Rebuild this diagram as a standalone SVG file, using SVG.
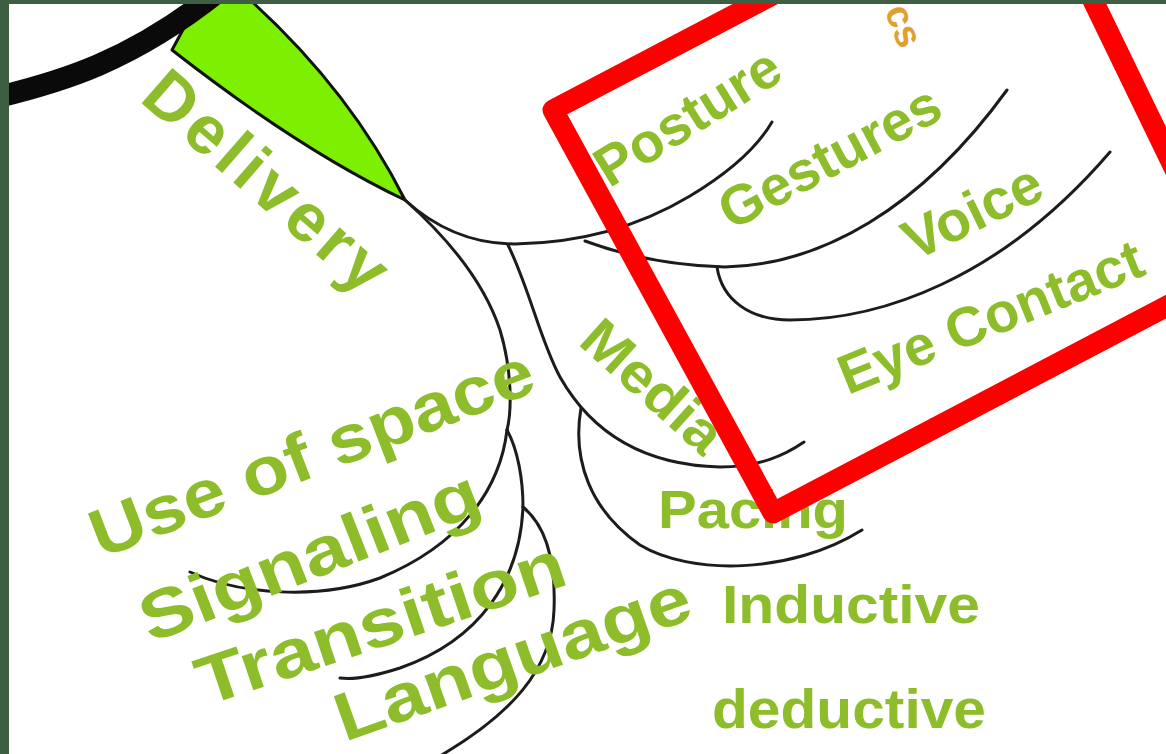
<svg xmlns="http://www.w3.org/2000/svg" width="1166" height="754" viewBox="0 0 1166 754">
<style>
.lbl{font-family:"Liberation Sans",Arial,sans-serif;font-weight:bold;fill:#8dbd2a;}
.br{fill:none;stroke:#1c1c1c;stroke-width:3;stroke-linecap:round;}
</style>
<rect x="0" y="0" width="1166" height="754" fill="#ffffff"/>
<g id="central-node">
<path d="M172 50 Q300 150 405 200 Q350 90 248 -2 L200 -2 Z" fill="#7cf000" stroke="#111" stroke-width="3" stroke-linejoin="round"/>
<path d="M-2 97 C60 82 130 62 218 -8" fill="none" stroke="#0a0a0a" stroke-width="22"/>
</g>
<g id="connectors">
<path class="br" d="M405 200 C440 232 478 244 515 244 C580 243 640 226 690 196 C730 172 758 146 772 122"/>
<path class="br" d="M585 241 Q650 265 725 267 C820 265 920 210 1007 90"/>
<path class="br" d="M717 267 C722 300 750 320 790 320 C880 320 1000 280 1110 152"/>
<path class="br" d="M508 245 C530 290 540 340 560 377 C590 430 640 465 720 467 C760 467 785 455 804 442"/>
<path class="br" d="M581 408 C572 460 590 510 640 545 C690 575 790 575 862 530"/>
<path class="br" d="M405 200 C450 240 485 285 500 330 C512 370 512 410 507 430"/>
<path class="br" d="M507 430 C500 490 460 545 380 578 C320 600 240 595 190 572"/>
<path class="br" d="M507 430 C518 450 523 480 523 507"/>
<path class="br" d="M523 507 C520 580 480 640 400 668 C375 676 355 680 340 678"/>
<path class="br" d="M523 507 C545 525 556 560 554 610 C552 670 510 715 440 756"/>
</g>
<g id="delivery"><text class="lbl" font-size="68" text-anchor="middle" textLength="300" lengthAdjust="spacing" transform="translate(266,182) rotate(41)" y="22">Delivery</text></g>
<g id="posture"><text class="lbl" font-size="56" text-anchor="middle" transform="translate(688,118) rotate(-32)" y="18">Posture</text></g>
<g id="gestures"><text class="lbl" font-size="56" text-anchor="middle" transform="translate(830,158) rotate(-28)" y="18">Gestures</text></g>
<g id="voice"><text class="lbl" font-size="57" text-anchor="middle" transform="translate(973,213) rotate(-26)" y="18">Voice</text></g>
<g id="eye-contact"><text class="lbl" font-size="56" text-anchor="middle" transform="translate(991,318) rotate(-22)" y="18">Eye Contact</text></g>
<g id="media"><text class="lbl" font-size="56" text-anchor="middle" textLength="170" lengthAdjust="spacingAndGlyphs" transform="translate(652,387) rotate(42)" y="18">Media</text></g>
<g id="pacing"><text class="lbl" font-size="53" x="658" y="528" textLength="190" lengthAdjust="spacingAndGlyphs">Pacing</text></g>
<g id="inductive"><text class="lbl" font-size="53" x="722" y="623" textLength="258" lengthAdjust="spacingAndGlyphs">Inductive</text></g>
<g id="deductive"><text class="lbl" font-size="56" x="712" y="728" textLength="274" lengthAdjust="spacingAndGlyphs">deductive</text></g>
<g id="use-of-space"><text class="lbl" font-size="68" text-anchor="middle" textLength="470" lengthAdjust="spacingAndGlyphs" transform="translate(312,454) rotate(-21)" y="22">Use of space</text></g>
<g id="signaling"><text class="lbl" font-size="68" text-anchor="middle" textLength="360" lengthAdjust="spacingAndGlyphs" transform="translate(310,557) rotate(-21.5)" y="22">Signaling</text></g>
<g id="transition"><text class="lbl" font-size="68" text-anchor="middle" textLength="385" lengthAdjust="spacingAndGlyphs" transform="translate(381,624) rotate(-18.6)" y="22">Transition</text></g>
<g id="language"><text class="lbl" font-size="68" text-anchor="middle" textLength="373" lengthAdjust="spacingAndGlyphs" transform="translate(513,659) rotate(-19.5)" y="22">Language</text></g>
<g id="orange-label"><text font-family="Liberation Sans,Arial,sans-serif" font-weight="bold" font-size="38" fill="#e0a030" text-anchor="end" transform="translate(900,50) rotate(68)">cs</text></g>
<g id="highlight-box"><path d="M553 110 L773 513 L1226 275 L1026 -138 Z" fill="none" stroke="#ff0000" stroke-width="21" stroke-linejoin="round"/></g>
<g id="frame"><rect x="0" y="0" width="9" height="754" fill="#3e5e43"/><rect x="0" y="0" width="1166" height="4" fill="#3e5e43"/></g>
</svg>
